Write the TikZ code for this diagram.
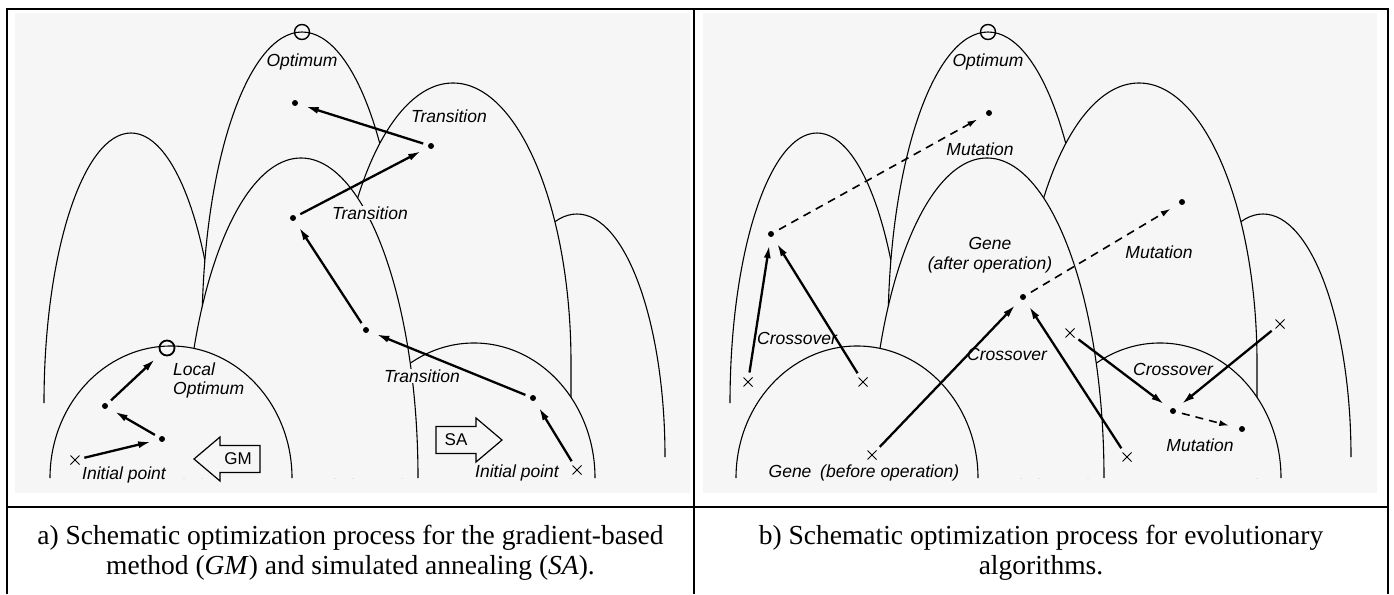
\documentclass[tikz,border=0pt]{standalone}
\usepackage{fontspec}
\setmainfont{Liberation Serif}
\setsansfont{Liberation Sans}
\usetikzlibrary{arrows.meta, shapes.misc}
\definecolor{scanbg}{gray}{0.965}
\tikzset{%
	hill/.style={
		draw,
		line width=1.1pt,
		fill=scanbg
	},
	spot/.style={circle, fill, inner sep=0pt, minimum size=6pt},
	xmark/.style={cross out, draw, line width=1pt, inner sep=0pt, minimum size=8pt},
	optimum/.style={circle, draw, line width=1.4pt, inner sep=0pt, minimum size=15pt},
	lbl/.style={font=\fontsize{17.5}{20}\selectfont\sffamily\itshape, inner sep=1pt},
	gap/.style={fill=scanbg},
	move/.style={-{Latex[length=13pt, width=7pt]}, line width=2.3pt, shorten >=8pt, shorten <=5pt},
	mutate/.style={-{Latex[length=10pt, width=6pt]}, line width=1.6pt, dash pattern=on 8pt off 6pt, shorten >=10pt, shorten <=6pt},
	method/.style={draw, line width=1.2pt, line join=miter},
	tableline/.style={line width=2.5pt},
	captext/.style={font=\fontsize{27.5}{30}\selectfont, align=center}
}
% one hill: centre x, top y, half width, arch height, foot y
\newcommand\hill[5]{%
	\path[hill] (#1-#3,#5) -- (#1-#3,#2+#4)
		arc[start angle=180, end angle=360, x radius=#3, y radius=#4] -- (#1+#3,#5);
}

\begin{document}
\begin{tikzpicture}[x=1pt, y=-1pt]
	\useasboundingbox (0,0) rectangle (1394,594);
	
	\fill[scanbg] (15,13) rectangle (690,493);
	\fill[scanbg] (703,13) rectangle (1377,493);
	
	% the same landscape in both panels, back to front
	\foreach \dx in {0,686}{
		\begin{scope}[xshift=\dx pt]
			\hill{131}{133}{87}{270}{403}
			\hill{577}{214}{88}{243}{457}
			\hill{302}{32}{100}{300}{478}
			\hill{453}{83}{118}{280}{478}
			\hill{474}{343}{121}{135}{478}
			\hill{301}{158}{117}{320}{478}
			\hill{171}{346}{121}{132}{478}
			\node[optimum] (top\dx) at (302,32) {};
			\node[lbl] (opt\dx) at (302,62) {Optimum};
		\end{scope}
	}
	
	% a) gradient-based method and simulated annealing
	\node[spot] (a1) at (295,103) {};
	\node[spot] (a2) at (431,146) {};
	\node[spot] (a3) at (293,218) {};
	\node[spot] (a4) at (366,330) {};
	\node[spot] (a5) at (533,398) {};
	\node[xmark] (a0) at (577,470) {};
	\node[lbl] (t1) at (449,116) {Transition};
	\node[lbl, gap] (t2) at (370,213) {Transition};
	\node[lbl, gap] (t3) at (422,376) {Transition};
	\node[lbl] (i1) at (517,473) {Initial point};
	\draw[move] (a0) -- (a5);
	\draw[move] (a5) -- (a4);
	\draw[move] (a4) -- (a3);
	\draw[move] (a3) -- (a2);
	\draw[move] (a2) -- (a1);
	
	\node[xmark] (g0) at (75,460) {};
	\node[spot] (g1) at (162,439) {};
	\node[spot] (g2) at (105,406) {};
	\node[optimum, line width=1.8pt] (g3) at (167,348) {};
	\node[lbl] (i2) at (124,475) {Initial point};
	\node[lbl, align=left, anchor=west, font=\fontsize{17.5}{19}\selectfont\sffamily\itshape] (lo) at (172,380) {Local\\Optimum};
	\draw[move] (g0) -- (g1);
	\draw[move] (g1) -- (g2);
	\draw[move] (g2) -- (g3);
	
	\node[font=\fontsize{17}{17}\selectfont\sffamily] (sa) at (456,440) {SA};
	\draw[method] ([shift={(-20,-13.5)}]sa.center) -- ++(40,0) -- ++(0,-8.5) -- ++(26,22)
		-- ++(-26,22) -- ++(0,-8.5) -- ++(-40,0) -- cycle;
	\node[font=\fontsize{17}{17}\selectfont\sffamily] (gm) at (238,459) {GM};
	\draw[method] ([shift={(22,-13.5)}]gm.center) -- ++(-40,0) -- ++(0,-8.5) -- ++(-26,22)
		-- ++(26,22) -- ++(0,-8.5) -- ++(40,0) -- cycle;
	
	% b) evolutionary algorithms
	\node[spot] (m1) at (771,234) {};
	\node[spot] (m2) at (989,113) {};
	\node[spot] (ga) at (1023,297) {};
	\node[spot] (m3) at (1182,202) {};
	\node[spot] (c1) at (1173,411) {};
	\node[spot] (m4) at (1242,429) {};
	\node[xmark] (x1) at (748,382) {};
	\node[xmark] (x2) at (863,382) {};
	\node[xmark] (x3) at (872,455) {};
	\node[xmark] (x4) at (1070,333) {};
	\node[xmark] (x5) at (1280,324) {};
	\node[xmark] (x6) at (1127,457) {};
	
	\node[lbl] (mu1) at (980,149) {Mutation};
	\node[lbl] (mu2) at (1159,252) {Mutation};
	\node[lbl] (mu3) at (1200,445) {Mutation};
	\node[lbl] (co1) at (797,338) {Crossover};
	\node[lbl] (co2) at (1007,354) {Crossover};
	\node[lbl] (co3) at (1173,369) {Crossover};
	\node[lbl, align=center] (gn1) at (990,255) {Gene\\(after operation)};
	\node[lbl] (gn0) at (864,473) {Gene\enspace(before operation)};
	
	\draw[move] (x1) -- (m1);
	\draw[move] (x2) -- (m1);
	\draw[move] (x3) -- (ga);
	\draw[move] (x6) -- (ga);
	\draw[move] (x4) -- (c1);
	\draw[move] (x5) -- (c1);
	\draw[mutate] (m1) -- (m2);
	\draw[mutate] (ga) -- (m3);
	\draw[mutate] (c1) -- (m4);
	
	% table
	\draw[tableline] (7,594) -- (7,9) -- (1388,9) -- (1388,594);
	\draw[tableline] (694,9) -- (694,594);
	\draw[tableline] (7,507) -- (1388,507);
	\node[captext] (capa) at (350.5,553) {a) Schematic optimization process for the gradient-based\\method (\textit{GM}) and simulated annealing (\textit{SA}).};
	\node[captext] (capb) at (1041,553) {b) Schematic optimization process for evolutionary\\algorithms.};
	
\end{tikzpicture}
\end{document}
